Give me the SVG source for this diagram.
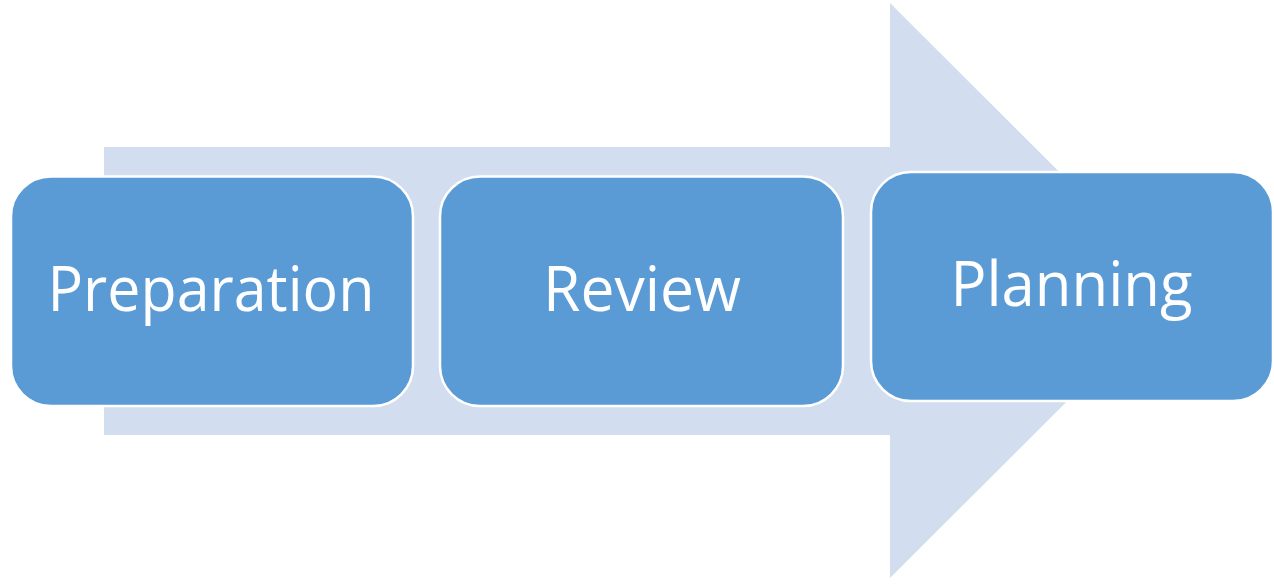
<svg xmlns="http://www.w3.org/2000/svg" width="1274" height="584" viewBox="0 0 1274 584">
<style>
.box{fill:#5B9BD5;stroke:#FFFFFF;stroke-width:2.5}
.lbl{fill:#FFFFFF;font-family:"Open Sans","Noto Sans",sans-serif;font-size:62px;text-anchor:middle}
</style>
<rect width="1274" height="584" fill="#FFFFFF"/>
<g id="arrow">
<polygon points="104,147 890,147 890,3 1178,290.5 890,578 890,435 104,435" fill="#D2DEEF"/>
</g>
<g id="connectors"></g>
<g id="node-preparation">
<rect class="box" x="11" y="176.5" width="402" height="229.5" rx="40" ry="40"/>
<text class="lbl" x="211" y="311" textLength="327" lengthAdjust="spacingAndGlyphs">Preparation</text>
</g>
<g id="node-review">
<rect class="box" x="440" y="176.5" width="403" height="229.5" rx="40" ry="40"/>
<text class="lbl" x="642" y="311" textLength="198" lengthAdjust="spacingAndGlyphs">Review</text>
</g>
<g id="node-planning">
<rect class="box" x="871" y="172" width="402" height="229" rx="40" ry="40"/>
<text class="lbl" x="1071.5" y="306" textLength="242" lengthAdjust="spacingAndGlyphs">Planning</text>
</g>
</svg>
